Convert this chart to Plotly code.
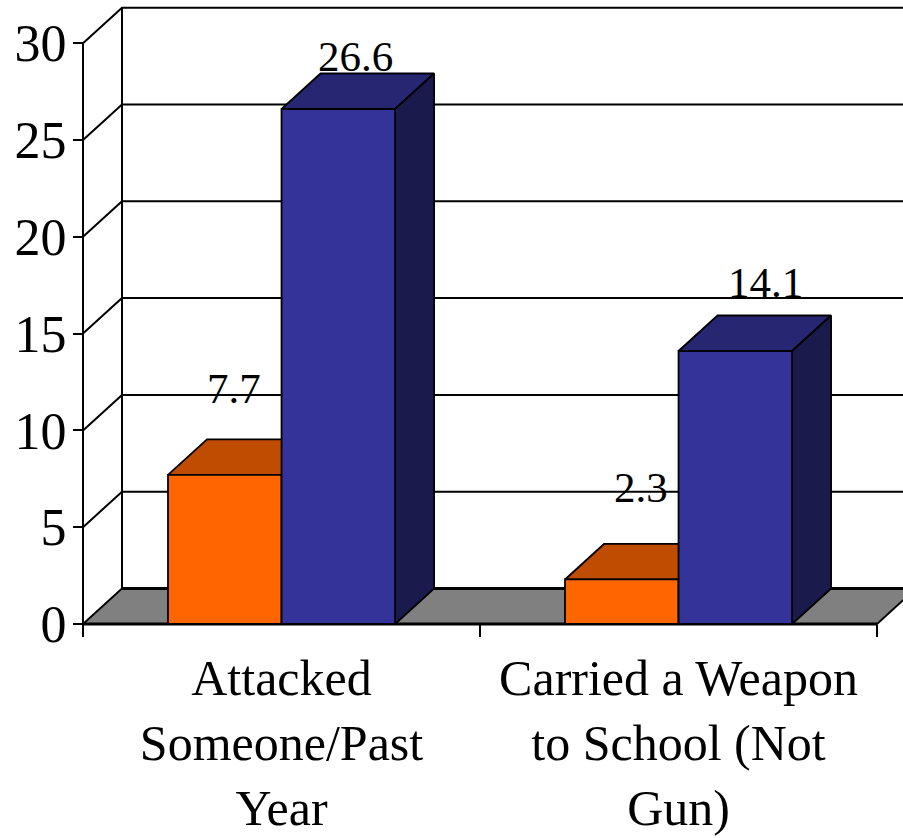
import plotly.graph_objects as go

categories = ["Attacked<br>Someone/Past<br>Year", "Carried a Weapon<br>to School (Not<br>Gun)"]
orange_values = [7.7, 2.3]
blue_values = [26.6, 14.1]
y_ticks = [0, 5, 10, 15, 20, 25, 30]

# hand placed data labels in the original, pixels away from the bar's back top edge
orange_label_shift = [(-10, 25), (0, 31)]
blue_label_shift = [(-2, -8), (11, 8)]

# size of the fake 3d look, in axis units
depth_x = 39 / 397
depth_y = 35.5 / 19.36
bar_start = 0.2141
bar_width = 0.286

# axis ranges chosen so the whole page is the plot area
x_range = [-83 / 397, (903 - 83) / 397]
y_range = [-214 / 19.36, 624 / 19.36]

FONT = "Liberation Serif"
LINE = dict(color="black", width=1.8)


def poly(fig, xs, ys, fill):
    fig.add_trace(go.Scatter(x=xs, y=ys, mode="lines", fill="toself", fillcolor=fill,
                             line=LINE, hoverinfo="skip", showlegend=False))


def edge(fig, xs, ys, width=2):
    fig.add_trace(go.Scatter(x=xs, y=ys, mode="lines", line=dict(color="black", width=width),
                             hoverinfo="skip", showlegend=False))


def bar3d(fig, x0, value, front, top, side):
    x1 = x0 + bar_width
    poly(fig, [x0, x1, x1 + depth_x, x0 + depth_x, x0],
         [value, value, value + depth_y, value + depth_y, value], top)
    poly(fig, [x1, x1 + depth_x, x1 + depth_x, x1, x1],
         [0, depth_y, value + depth_y, value, 0], side)
    poly(fig, [x0, x1, x1, x0, x0], [0, 0, value, value, 0], front)


fig = go.Figure()

# floor
poly(fig, [0, 2, 2 + depth_x, depth_x, 0], [0, 0, depth_y, depth_y, 0], "#808080")
edge(fig, [depth_x, 2 + depth_x], [depth_y, depth_y], 3)
edge(fig, [0, 2], [0, 0], 3)

# walls and gridlines
for t in y_ticks[1:]:
    edge(fig, [0, depth_x, 2 + depth_x], [t, t + depth_y, t + depth_y])
edge(fig, [0, 0], [0, y_ticks[-1]], 2)
edge(fig, [depth_x, depth_x], [depth_y, y_ticks[-1] + depth_y], 2)

for i in range(len(categories)):
    bar3d(fig, i + bar_start, orange_values[i], "#FF6600", "#BF4C00", "#803300")
    bar3d(fig, i + bar_start + bar_width, blue_values[i], "#333399", "#262673", "#1A1A4D")

for i in range(len(categories)):
    for vals, shift, off in [(orange_values, orange_label_shift, 0), (blue_values, blue_label_shift, bar_width)]:
        fig.add_annotation(x=i + bar_start + off + bar_width / 2 + depth_x / 2,
                           y=vals[i] + depth_y,
                           text=str(vals[i]), showarrow=False,
                           xanchor="center", yanchor="bottom",
                           xshift=shift[i][0], yshift=shift[i][1],
                           font=dict(family=FONT, size=43, color="black"))

fig.update_layout(
    width=903, height=838,
    margin=dict(l=0, r=0, t=0, b=0),
    paper_bgcolor="white", plot_bgcolor="white",
    showlegend=False,
    xaxis=dict(range=x_range, anchor="free", position=214 / 838, showgrid=False,
               automargin=False, zeroline=False, showline=False, ticks="",
               tickvals=[0.5, 1.5], ticktext=categories, tickangle=0,
               ticklabelstandoff=20,
               tickfont=dict(family=FONT, size=50, color="black"),
               minor=dict(tickvals=[0, 1, 2], ticks="outside", ticklen=12,
                          tickwidth=2, tickcolor="black", showgrid=False)),
    yaxis=dict(range=y_range, anchor="free", position=83 / 903, showgrid=False,
               automargin=False, zeroline=False, showline=False, ticks="outside", ticklen=10,
               tickwidth=2, tickcolor="black",
               tickvals=y_ticks, ticklabelstandoff=-4,
               tickfont=dict(family=FONT, size=52, color="black")),
)

# the page's default body margin would push the chart off the window
fig.write_html("out.html", config=dict(displayModeBar=False),
               post_script="document.body.style.margin='0';")
